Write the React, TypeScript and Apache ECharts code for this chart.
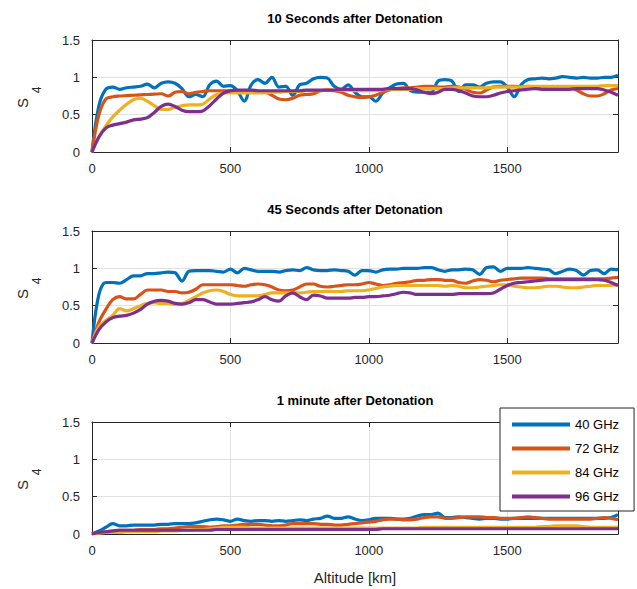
import { useEffect, useRef } from "react";
import * as echarts from "echarts";

const ALTITUDE_KM = [
  0, 25, 50, 75, 100, 125, 150, 175, 200, 225, 250, 275, 300, 325, 350, 375,
  400, 425, 450, 475, 500, 525, 550, 575, 600, 625, 650, 675, 700, 725, 750, 775,
  800, 825, 850, 875, 900, 925, 950, 975, 1000, 1025, 1050, 1075, 1100, 1125, 1150, 1175,
  1200, 1225, 1250, 1275, 1300, 1325, 1350, 1375, 1400, 1425, 1450, 1475, 1500, 1525, 1550, 1575,
  1600, 1625, 1650, 1675, 1700, 1725, 1750, 1775, 1800, 1825, 1850, 1875, 1900,
];

const SERIES_NAMES = ["40 GHz", "72 GHz", "84 GHz", "96 GHz"];
const PANEL_TITLES = [
  "10 Seconds after Detonation",
  "45 Seconds after Detonation",
  "1 minute after Detonation",
];

// Panel 1: 10 s
const S4_10S_40 = [
  0.00, 0.62, 0.84, 0.87, 0.84, 0.86, 0.87, 0.88, 0.91, 0.86, 0.92, 0.94,
  0.92, 0.85, 0.74, 0.77, 0.74, 0.90, 0.95, 0.88, 0.89, 0.82, 0.68, 0.90,
  0.97, 0.92, 1.00, 0.87, 0.88, 0.76, 0.90, 0.92, 0.98, 1.00, 0.99, 0.88,
  0.84, 0.90, 0.80, 0.74, 0.74, 0.68, 0.79, 0.86, 0.91, 0.92, 0.82, 0.80,
  0.80, 0.80, 0.95, 0.97, 0.95, 0.81, 0.90, 0.90, 0.87, 0.92, 0.94, 0.94,
  0.87, 0.74, 0.90, 0.97, 0.98, 0.99, 0.98, 0.99, 1.01, 1.00, 0.99, 1.00,
  0.99, 0.99, 1.00, 1.00, 1.03,
];
const S4_10S_72 = [
  0.00, 0.50, 0.71, 0.74, 0.75, 0.755, 0.76, 0.765, 0.77, 0.775, 0.78, 0.75,
  0.80, 0.81, 0.78, 0.80, 0.81, 0.82, 0.82, 0.82, 0.82, 0.82, 0.82, 0.82,
  0.80, 0.80, 0.76, 0.71, 0.70, 0.72, 0.76, 0.77, 0.78, 0.82, 0.83, 0.82,
  0.80, 0.76, 0.74, 0.73, 0.74, 0.76, 0.80, 0.83, 0.85, 0.86, 0.86, 0.87,
  0.88, 0.88, 0.87, 0.87, 0.88, 0.87, 0.84, 0.80, 0.79, 0.83, 0.87, 0.88,
  0.88, 0.88, 0.87, 0.88, 0.86, 0.85, 0.84, 0.86, 0.87, 0.86, 0.83, 0.78,
  0.75, 0.75, 0.78, 0.83, 0.85,
];
const S4_10S_84 = [
  0.00, 0.20, 0.35, 0.47, 0.56, 0.64, 0.70, 0.72, 0.68, 0.62, 0.57, 0.57,
  0.60, 0.62, 0.63, 0.63, 0.64, 0.71, 0.77, 0.79, 0.79, 0.79, 0.79, 0.79,
  0.79, 0.79, 0.80, 0.80, 0.81, 0.81, 0.81, 0.82, 0.82, 0.82, 0.83, 0.83,
  0.83, 0.83, 0.82, 0.82, 0.82, 0.82, 0.83, 0.84, 0.84, 0.84, 0.84, 0.85,
  0.85, 0.85, 0.85, 0.85, 0.86, 0.86, 0.86, 0.86, 0.86, 0.86, 0.87, 0.87,
  0.87, 0.87, 0.87, 0.88, 0.88, 0.88, 0.88, 0.88, 0.88, 0.88, 0.88, 0.88,
  0.88, 0.88, 0.89, 0.89, 0.89,
];
const S4_10S_96 = [
  0.00, 0.20, 0.32, 0.36, 0.38, 0.40, 0.43, 0.44, 0.46, 0.53, 0.61, 0.64,
  0.61, 0.56, 0.54, 0.54, 0.55, 0.62, 0.71, 0.79, 0.82, 0.83, 0.83, 0.83,
  0.82, 0.82, 0.82, 0.82, 0.82, 0.82, 0.82, 0.83, 0.83, 0.83, 0.83, 0.83,
  0.84, 0.84, 0.84, 0.84, 0.84, 0.84, 0.84, 0.85, 0.85, 0.85, 0.85, 0.83,
  0.80, 0.78, 0.80, 0.84, 0.84, 0.82, 0.79, 0.75, 0.74, 0.74, 0.76, 0.79,
  0.81, 0.82, 0.83, 0.84, 0.85, 0.84, 0.84, 0.84, 0.84, 0.84, 0.85, 0.85,
  0.85, 0.85, 0.83, 0.80, 0.76,
];

// Panel 2: 45 s
const S4_45S_40 = [
  0.00, 0.65, 0.81, 0.81, 0.80, 0.85, 0.90, 0.90, 0.93, 0.93, 0.94, 0.95,
  0.94, 0.83, 0.96, 0.97, 0.97, 0.97, 0.96, 0.95, 0.99, 0.94, 1.00, 0.98,
  0.96, 0.96, 0.96, 0.95, 0.97, 0.98, 0.97, 1.01, 0.98, 0.97, 0.97, 0.98,
  0.97, 0.96, 0.91, 0.97, 0.97, 0.95, 0.98, 0.99, 0.99, 1.00, 1.00, 1.00,
  1.01, 1.01, 0.98, 0.96, 0.98, 0.98, 0.99, 0.98, 0.92, 1.01, 1.02, 0.96,
  1.00, 1.00, 1.00, 1.01, 1.00, 0.99, 0.98, 0.93, 0.96, 0.99, 0.97, 0.91,
  0.97, 0.98, 0.93, 0.99, 0.98,
];
const S4_45S_72 = [
  0.00, 0.28, 0.45, 0.58, 0.62, 0.59, 0.59, 0.65, 0.71, 0.71, 0.71, 0.69,
  0.69, 0.67, 0.68, 0.72, 0.78, 0.78, 0.78, 0.78, 0.78, 0.77, 0.76, 0.78,
  0.79, 0.78, 0.75, 0.71, 0.70, 0.71, 0.75, 0.79, 0.79, 0.76, 0.75, 0.76,
  0.77, 0.78, 0.78, 0.79, 0.81, 0.79, 0.77, 0.78, 0.80, 0.81, 0.82, 0.84,
  0.84, 0.85, 0.85, 0.84, 0.84, 0.81, 0.80, 0.83, 0.85, 0.84, 0.82, 0.84,
  0.85, 0.86, 0.87, 0.87, 0.87, 0.87, 0.86, 0.86, 0.86, 0.86, 0.86, 0.86,
  0.86, 0.86, 0.86, 0.87, 0.88,
];
const S4_45S_84 = [
  0.00, 0.22, 0.30, 0.37, 0.46, 0.43, 0.46, 0.50, 0.53, 0.54, 0.53, 0.53,
  0.52, 0.53, 0.57, 0.62, 0.67, 0.70, 0.71, 0.69, 0.65, 0.63, 0.63, 0.63,
  0.63, 0.65, 0.67, 0.67, 0.67, 0.67, 0.67, 0.68, 0.69, 0.69, 0.69, 0.69,
  0.69, 0.70, 0.70, 0.70, 0.71, 0.73, 0.75, 0.76, 0.77, 0.77, 0.77, 0.77,
  0.77, 0.77, 0.77, 0.76, 0.77, 0.76, 0.74, 0.74, 0.75, 0.76, 0.77, 0.78,
  0.78, 0.76, 0.75, 0.74, 0.74, 0.75, 0.76, 0.76, 0.75, 0.74, 0.74, 0.75,
  0.76, 0.77, 0.77, 0.77, 0.78,
];
const S4_45S_96 = [
  0.00, 0.18, 0.28, 0.34, 0.36, 0.37, 0.40, 0.45, 0.52, 0.56, 0.57, 0.56,
  0.53, 0.52, 0.54, 0.58, 0.58, 0.55, 0.52, 0.52, 0.52, 0.53, 0.54, 0.55,
  0.58, 0.62, 0.58, 0.56, 0.63, 0.67, 0.62, 0.58, 0.64, 0.63, 0.60, 0.60,
  0.60, 0.60, 0.61, 0.61, 0.62, 0.62, 0.63, 0.64, 0.66, 0.68, 0.67, 0.65,
  0.65, 0.65, 0.65, 0.65, 0.65, 0.66, 0.66, 0.66, 0.66, 0.66, 0.67, 0.72,
  0.77, 0.80, 0.81, 0.82, 0.83, 0.84, 0.85, 0.85, 0.85, 0.85, 0.85, 0.85,
  0.85, 0.85, 0.84, 0.81, 0.77,
];

// Panel 3: 1 min
const S4_1M_40 = [
  0.00, 0.04, 0.09, 0.14, 0.11, 0.11, 0.12, 0.12, 0.12, 0.12, 0.13, 0.13,
  0.14, 0.14, 0.14, 0.15, 0.17, 0.19, 0.20, 0.19, 0.17, 0.20, 0.18, 0.17,
  0.18, 0.18, 0.17, 0.18, 0.17, 0.18, 0.19, 0.18, 0.20, 0.21, 0.24, 0.21,
  0.21, 0.23, 0.20, 0.18, 0.19, 0.21, 0.21, 0.21, 0.20, 0.20, 0.21, 0.24,
  0.26, 0.26, 0.28, 0.22, 0.22, 0.23, 0.22, 0.21, 0.20, 0.21, 0.21, 0.20,
  0.20, 0.21, 0.21, 0.21, 0.21, 0.21, 0.21, 0.21, 0.21, 0.21, 0.21, 0.21,
  0.21, 0.21, 0.21, 0.22, 0.26,
];
const S4_1M_72 = [
  0.00, 0.02, 0.03, 0.04, 0.05, 0.05, 0.05, 0.06, 0.06, 0.06, 0.07, 0.07,
  0.08, 0.09, 0.10, 0.10, 0.10, 0.09, 0.10, 0.11, 0.11, 0.12, 0.13, 0.13,
  0.13, 0.12, 0.11, 0.11, 0.12, 0.14, 0.14, 0.14, 0.14, 0.13, 0.13, 0.12,
  0.12, 0.13, 0.14, 0.15, 0.16, 0.17, 0.19, 0.20, 0.20, 0.19, 0.19, 0.20,
  0.22, 0.23, 0.23, 0.21, 0.21, 0.22, 0.23, 0.23, 0.23, 0.22, 0.22, 0.21,
  0.21, 0.21, 0.22, 0.23, 0.22, 0.21, 0.20, 0.20, 0.20, 0.20, 0.20, 0.20,
  0.20, 0.21, 0.22, 0.21, 0.19,
];
const S4_1M_84 = [
  0.00, 0.01, 0.02, 0.02, 0.02, 0.03, 0.03, 0.03, 0.03, 0.03, 0.04, 0.04,
  0.04, 0.05, 0.05, 0.06, 0.06, 0.07, 0.08, 0.09, 0.09, 0.09, 0.09, 0.08,
  0.08, 0.08, 0.08, 0.08, 0.08, 0.08, 0.08, 0.08, 0.08, 0.08, 0.08, 0.08,
  0.08, 0.08, 0.08, 0.08, 0.08, 0.08, 0.08, 0.08, 0.08, 0.08, 0.08, 0.08,
  0.09, 0.09, 0.09, 0.09, 0.09, 0.09, 0.09, 0.09, 0.09, 0.09, 0.09, 0.09,
  0.09, 0.09, 0.09, 0.09, 0.09, 0.10, 0.10, 0.11, 0.11, 0.11, 0.11, 0.10,
  0.09, 0.09, 0.09, 0.09, 0.09,
];
const S4_1M_96 = [
  0.00, 0.02, 0.03, 0.04, 0.05, 0.05, 0.05, 0.05, 0.05, 0.05, 0.05, 0.05,
  0.05, 0.05, 0.05, 0.05, 0.05, 0.05, 0.06, 0.06, 0.06, 0.06, 0.06, 0.06,
  0.06, 0.06, 0.06, 0.06, 0.06, 0.06, 0.06, 0.06, 0.06, 0.06, 0.06, 0.06,
  0.06, 0.06, 0.06, 0.06, 0.06, 0.06, 0.07, 0.07, 0.07, 0.07, 0.07, 0.07,
  0.07, 0.07, 0.07, 0.07, 0.07, 0.07, 0.07, 0.07, 0.07, 0.07, 0.07, 0.07,
  0.07, 0.07, 0.07, 0.07, 0.07, 0.07, 0.07, 0.07, 0.07, 0.07, 0.07, 0.07,
  0.07, 0.07, 0.07, 0.07, 0.07,
];

const PANELS = [
  [S4_10S_40, S4_10S_72, S4_10S_84, S4_10S_96],
  [S4_45S_40, S4_45S_72, S4_45S_84, S4_45S_96],
  [S4_1M_40, S4_1M_72, S4_1M_84, S4_1M_96],
];

const COLORS = ["#0072BD", "#D95319", "#EDB120", "#7E2F8E"];
const FONT = '"Liberation Sans", Arial, Helvetica, sans-serif';
const AXIS_COLOR = "#262626";
const GRID_LEFT = 92;
const GRID_WIDTH = 526;
const GRID_HEIGHT = 112;
const GRID_TOPS = [40, 231, 422];

export default function App() {
  const ref = useRef<HTMLDivElement>(null);

  useEffect(() => {
    document.body.style.margin = "0";
    const chart = echarts.init(ref.current!, null, { renderer: "svg" });

    const grids = GRID_TOPS.map((top) => ({
      left: GRID_LEFT,
      top,
      width: GRID_WIDTH,
      height: GRID_HEIGHT,
      containLabel: false,
    }));

    const tick = { show: true, inside: true, length: 5, lineStyle: { color: AXIS_COLOR, width: 1 } };
    const line = { show: true, onZero: false, lineStyle: { color: AXIS_COLOR, width: 1 } };

    const xAxes: any[] = [];
    const yAxes: any[] = [];
    GRID_TOPS.forEach((_, i) => {
      xAxes.push({
        type: "value",
        gridIndex: i,
        position: "bottom",
        min: 0,
        max: 1900,
        interval: 500,
        axisLine: line,
        axisTick: tick,
        axisLabel: {
          color: AXIS_COLOR,
          fontSize: 13,
          fontFamily: FONT,
          margin: 10,
          showMaxLabel: false,
          formatter: (v: number) => String(v),
        },
        splitLine: { show: true, lineStyle: { color: "#e1e1e1", width: 1 } },
        ...(i === 2
          ? {
              name: "Altitude [km]",
              nameLocation: "middle",
              nameGap: 36,
              nameTextStyle: { color: AXIS_COLOR, fontSize: 15, fontFamily: FONT },
            }
          : {}),
      });
      yAxes.push({
        type: "value",
        gridIndex: i,
        position: "left",
        min: 0,
        max: 1.5,
        interval: 0.5,
        axisLine: line,
        axisTick: tick,
        axisLabel: { color: AXIS_COLOR, fontSize: 13, fontFamily: FONT, margin: 12 },
        splitLine: { show: true, lineStyle: { color: "#e1e1e1", width: 1 } },
      });
    });
    GRID_TOPS.forEach((_, i) => {
      xAxes.push({
        type: "value",
        gridIndex: i,
        position: "top",
        min: 0,
        max: 1900,
        interval: 500,
        axisLine: line,
        axisTick: tick,
        axisLabel: { show: false },
        splitLine: { show: false },
      });
      yAxes.push({
        type: "value",
        gridIndex: i,
        position: "right",
        min: 0,
        max: 1.5,
        interval: 0.5,
        axisLine: line,
        axisTick: tick,
        axisLabel: { show: false },
        splitLine: { show: false },
      });
    });

    const series: any[] = [];
    PANELS.forEach((panel, p) => {
      panel.forEach((values, j) => {
        series.push({
          type: "line",
          name: SERIES_NAMES[j],
          xAxisIndex: p,
          yAxisIndex: p,
          data: ALTITUDE_KM.map((a, k) => [a, values[k]]),
          showSymbol: false,
          symbol: "none",
          smooth: 0.35,
          lineStyle: { color: COLORS[j], width: 3.2 },
          itemStyle: { color: COLORS[j] },
          z: 2 + j,
        });
      });
    });

    const graphics: any[] = [];
    GRID_TOPS.forEach((top, i) => {
      const off = top - 40;
      graphics.push({
        type: "text",
        x: 355,
        y: 18 + off,
        style: {
          text: PANEL_TITLES[i],
          align: "center",
          verticalAlign: "middle",
          font: `bold 13px ${FONT}`,
          fill: "#000",
        },
      });
      graphics.push({
        type: "text",
        x: 22,
        y: 103 + off,
        rotation: Math.PI / 2,
        style: {
          text: "S",
          align: "center",
          verticalAlign: "middle",
          font: `15px ${FONT}`,
          fill: AXIS_COLOR,
        },
      });
      graphics.push({
        type: "text",
        x: 37,
        y: 90 + off,
        rotation: Math.PI / 2,
        style: {
          text: "4",
          align: "center",
          verticalAlign: "middle",
          font: `12px ${FONT}`,
          fill: AXIS_COLOR,
        },
      });
    });

    chart.setOption({
      animation: false,
      backgroundColor: "#fff",
      grid: grids,
      xAxis: xAxes,
      yAxis: yAxes,
      series,
      graphic: graphics,
      legend: {
        data: SERIES_NAMES,
        orient: "vertical",
        left: 500,
        top: 408,
        itemWidth: 58,
        itemHeight: 4,
        itemGap: 9,
        icon: "rect",
        backgroundColor: "#fff",
        borderColor: AXIS_COLOR,
        borderWidth: 1,
        padding: [9, 15, 7, 12],
        textStyle: { fontSize: 13, color: "#000", fontFamily: FONT, lineHeight: 15 },
        z: 20,
      },
    });

    return () => chart.dispose();
  }, []);

  return <div ref={ref} style={{ width: 637, height: 589 }} />;
}
